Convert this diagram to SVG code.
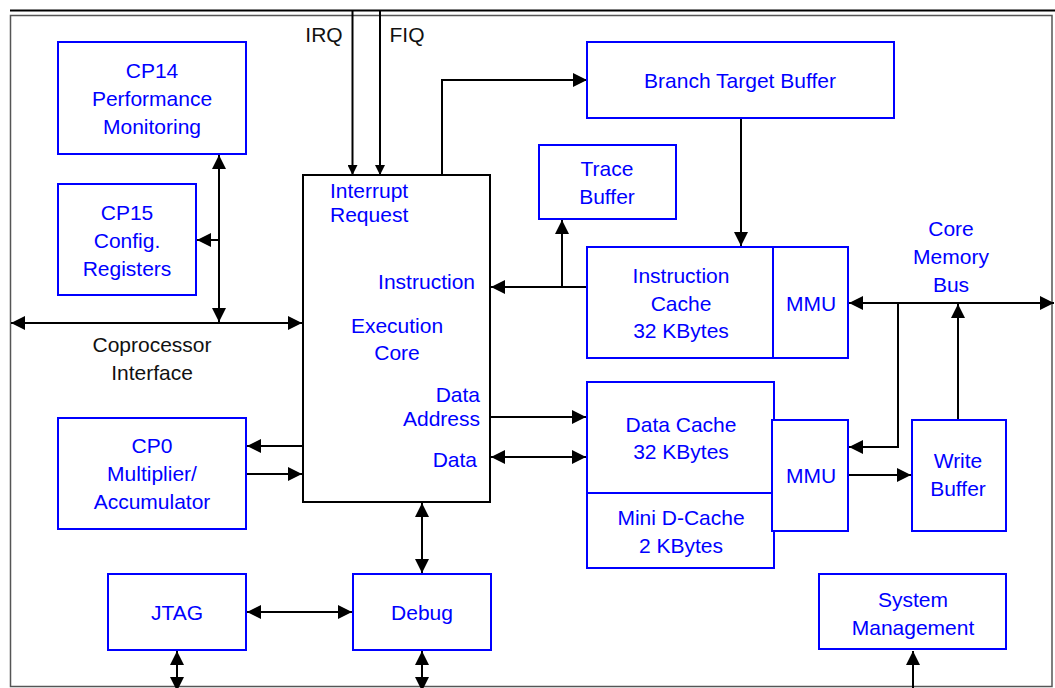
<svg xmlns="http://www.w3.org/2000/svg" width="1055" height="688" viewBox="0 0 1055 688">
<style>
.box{fill:#fff;stroke:#0000ff;stroke-width:2}
.core{fill:#fff;stroke:#000;stroke-width:2}
.t{font-family:"Liberation Sans",Arial,Helvetica,sans-serif;font-size:21px;fill:#0000ff;text-anchor:middle}
.k{fill:#111}
.r{text-anchor:end}
.l{text-anchor:start}
.c{fill:none;stroke:#000;stroke-width:2}
.e{marker-end:url(#ah)}
.b{marker-start:url(#ah);marker-end:url(#ah)}
.s{marker-end:url(#as)}
</style>
<defs>
<marker id="ah" markerUnits="userSpaceOnUse" markerWidth="14" markerHeight="14" refX="14" refY="7" orient="auto-start-reverse" viewBox="0 0 14 14"><path d="M0,0 L14,7 L0,14 z" fill="#000"/></marker>
<marker id="as" markerUnits="userSpaceOnUse" markerWidth="10" markerHeight="10" refX="10" refY="5" orient="auto-start-reverse" viewBox="0 0 10 10"><path d="M0,0 L10,5 L0,10 z" fill="#000"/></marker>
</defs>
<rect width="1055" height="688" fill="#fff"/>
<line x1="10" y1="10.5" x2="1055" y2="10.5" stroke="#000" stroke-width="2"/>
<rect x="10.5" y="15.5" width="1041.5" height="671" fill="none" stroke="#555" stroke-width="1.5"/>

<g id="connectors">
<line class="c s" x1="352.5" y1="11" x2="352.5" y2="175"/>
<line class="c s" x1="380" y1="11" x2="380" y2="175"/>
<polyline class="c e" points="442,175 442,80 587,80"/>
<line class="c e" x1="741" y1="118" x2="741" y2="246"/>
<line class="c e" x1="587" y1="287" x2="491" y2="287"/>
<line class="c e" x1="562" y1="287" x2="562" y2="220"/>
<line class="c b" x1="219" y1="155" x2="219" y2="322"/>
<line class="c e" x1="219" y1="240" x2="197" y2="240"/>
<line class="c b" x1="11" y1="323" x2="302" y2="323"/>
<line class="c e" x1="303" y1="446" x2="247" y2="446"/>
<line class="c e" x1="246" y1="474" x2="302" y2="474"/>
<line class="c e" x1="490" y1="417" x2="586" y2="417"/>
<line class="c b" x1="491" y1="457" x2="586" y2="457"/>
<line class="c b" x1="422" y1="503" x2="422" y2="573"/>
<line class="c b" x1="247" y1="612" x2="352" y2="612"/>
<line class="c b" x1="177" y1="651" x2="177" y2="691"/>
<line class="c b" x1="422" y1="651" x2="422" y2="691"/>
<line class="c b" x1="849" y1="303" x2="1054" y2="303"/>
<polyline class="c e" points="898,303 898,447 849,447"/>
<line class="c e" x1="958" y1="420" x2="958" y2="304"/>
<line class="c e" x1="848" y1="475" x2="911" y2="475"/>
<line class="c e" x1="913" y1="688" x2="913" y2="651"/>
</g>

<g id="labels">
<text class="t k" x="324" y="42">IRQ</text>
<text class="t k" x="407" y="42">FIQ</text>
<text class="t k" x="152" y="352">Coprocessor</text>
<text class="t k" x="152" y="380">Interface</text>
<text class="t" x="951" y="236">Core</text>
<text class="t" x="951" y="264">Memory</text>
<text class="t" x="951" y="292">Bus</text>
</g>

<g id="cp14">
<rect class="box" x="58" y="42" width="188" height="112"/>
<text class="t" x="152" y="78">CP14</text>
<text class="t" x="152" y="106">Performance</text>
<text class="t" x="152" y="134">Monitoring</text>
</g>
<g id="cp15">
<rect class="box" x="58" y="184" width="138" height="111"/>
<text class="t" x="127" y="220">CP15</text>
<text class="t" x="127" y="248">Config.</text>
<text class="t" x="127" y="276">Registers</text>
</g>
<g id="core">
<rect class="core" x="303" y="175" width="187" height="327"/>
<text class="t l" x="330" y="198">Interrupt</text>
<text class="t l" x="330" y="222">Request</text>
<text class="t r" x="475" y="289">Instruction</text>
<text class="t" x="397" y="333">Execution</text>
<text class="t" x="397" y="360">Core</text>
<text class="t r" x="480" y="402">Data</text>
<text class="t r" x="480" y="426">Address</text>
<text class="t r" x="477" y="467">Data</text>
</g>
<g id="btb">
<rect class="box" x="587" y="42" width="307" height="76"/>
<text class="t" x="740" y="88">Branch Target Buffer</text>
</g>
<g id="trace">
<rect class="box" x="539" y="145" width="137" height="74"/>
<text class="t" x="607" y="176">Trace</text>
<text class="t" x="607" y="204">Buffer</text>
</g>
<g id="icache">
<rect class="box" x="587" y="247" width="186" height="111"/>
<text class="t" x="681" y="283">Instruction</text>
<text class="t" x="681" y="311">Cache</text>
<text class="t" x="681" y="338">32 KBytes</text>
</g>
<g id="immu">
<rect class="box" x="773" y="247" width="75" height="111"/>
<text class="t" x="811" y="311">MMU</text>
</g>
<g id="dcache">
<rect class="box" x="587" y="382" width="187" height="111"/>
<text class="t" x="681" y="432">Data Cache</text>
<text class="t" x="681" y="459">32 KBytes</text>
</g>
<g id="minidcache">
<rect class="box" x="587" y="493" width="187" height="75"/>
<text class="t" x="681" y="525">Mini D-Cache</text>
<text class="t" x="681" y="553">2 KBytes</text>
</g>
<g id="dmmu">
<rect class="box" x="772" y="420" width="76" height="111"/>
<text class="t" x="811" y="483">MMU</text>
</g>
<g id="writebuffer">
<rect class="box" x="912" y="420" width="94" height="111"/>
<text class="t" x="958" y="468">Write</text>
<text class="t" x="958" y="496">Buffer</text>
</g>
<g id="cp0">
<rect class="box" x="58" y="418" width="188" height="111"/>
<text class="t" x="152" y="453">CP0</text>
<text class="t" x="152" y="481">Multiplier/</text>
<text class="t" x="152" y="509">Accumulator</text>
</g>
<g id="jtag">
<rect class="box" x="108" y="574" width="138" height="76"/>
<text class="t" x="177" y="620">JTAG</text>
</g>
<g id="debug">
<rect class="box" x="353" y="574" width="138" height="76"/>
<text class="t" x="422" y="620">Debug</text>
</g>
<g id="sysmgmt">
<rect class="box" x="819" y="574" width="187" height="75"/>
<text class="t" x="913" y="607">System</text>
<text class="t" x="913" y="635">Management</text>
</g>
</svg>
